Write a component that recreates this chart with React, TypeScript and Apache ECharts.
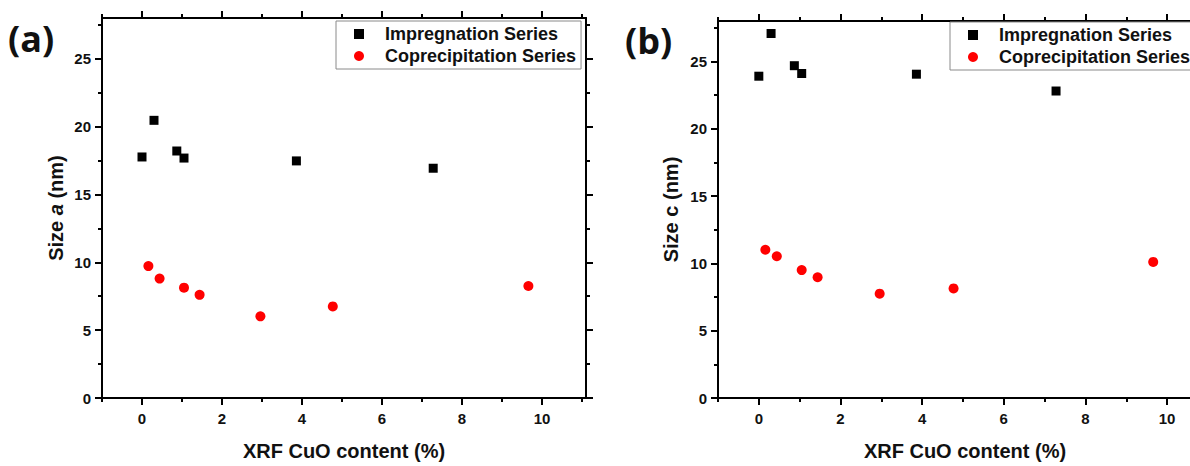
import React, { useEffect, useRef } from "react";
import * as echarts from "echarts";

const SERIES_NAMES = ["Impregnation Series", "Coprecipitation Series"];
const impX = [0, 0.3, 0.87, 1.05, 3.86, 7.28];
const impSizeA = [17.76, 20.46, 18.2, 17.68, 17.47, 16.93];
const impSizeC = [23.9, 27.07, 24.68, 24.1, 24.05, 22.8];
const copX = [0.16, 0.44, 1.05, 1.44, 2.96, 4.77, 9.66];
const copSizeA = [9.72, 8.8, 8.13, 7.6, 6.02, 6.75, 8.25];
const copSizeC = [11.01, 10.53, 9.5, 8.97, 7.75, 8.14, 10.11];

const xMajorTicks = [0, 2, 4, 6, 8, 10];
const xMinorTicks = [-1, 1, 3, 5, 7, 9, 11];
const yMajorTicks = [0, 5, 10, 15, 20, 25];
const yMinorTicks = [2.5, 7.5, 12.5, 17.5, 22.5, 27.5];
const X_MIN = -1;
const X_MAX = 11.1;
const Y_MIN = 0;
const Y_MAX = 28;

const X_TITLE = "XRF CuO content (%)";
const Y_TITLES = ["Size {i|a} (nm)", "Size c (nm)"];
const PANEL_LABELS = ["(a)", "(b)"];

const FONT = "'Liberation Sans', Arial, sans-serif";
const INK = "#111";

const zip = (xs: number[], ys: number[]) => xs.map((x, i) => [x, ys[i]]);

const titleStyle = {
  fontFamily: FONT,
  fontWeight: "bold",
  fontSize: 20,
  color: INK,
  rich: {
    i: { fontFamily: FONT, fontWeight: "bold", fontStyle: "italic", fontSize: 20, color: INK },
  },
};
const labelStyle = { fontFamily: FONT, fontWeight: "bold", fontSize: 15, color: INK };
const lineStyle = { color: "#000", width: 2 };
const tickLine = { color: "#000", width: 2 };

function makeXAxes(gi: number) {
  const base = { type: "value", gridIndex: gi, min: X_MIN, max: X_MAX, splitLine: { show: false } };
  const mk = (pos: string, major: boolean, withLabel: boolean) => ({
    ...base,
    position: pos,
    axisLine: { show: major, onZero: false, lineStyle },
    axisTick: {
      show: true,
      inside: false,
      length: major ? 7 : 4,
      customValues: major ? xMajorTicks : xMinorTicks,
      lineStyle: tickLine,
    },
    axisLabel: withLabel
      ? { show: true, customValues: xMajorTicks, margin: 13, ...labelStyle }
      : { show: false },
    ...(withLabel
      ? { name: X_TITLE, nameLocation: "middle", nameGap: 43, nameTextStyle: titleStyle }
      : {}),
  });
  return [mk("bottom", true, true), mk("bottom", false, false), mk("top", true, false), mk("top", false, false)];
}

function makeYAxes(gi: number, gap: number) {
  const base = { type: "value", gridIndex: gi, min: Y_MIN, max: Y_MAX, splitLine: { show: false } };
  const mk = (pos: string, major: boolean, withLabel: boolean) => ({
    ...base,
    position: pos,
    axisLine: { show: major, onZero: false, lineStyle },
    axisTick: {
      show: true,
      inside: false,
      length: major ? 7 : 4,
      customValues: major ? yMajorTicks : yMinorTicks,
      lineStyle: tickLine,
    },
    axisLabel: withLabel
      ? { show: true, customValues: yMajorTicks, margin: 11, ...labelStyle }
      : { show: false },
    ...(withLabel
      ? { name: Y_TITLES[gi], nameLocation: "middle", nameGap: gap, nameTextStyle: titleStyle }
      : {}),
  });
  return [mk("left", true, true), mk("left", false, false), mk("right", true, false), mk("right", false, false)];
}

function makeLegend(left: number, top: number) {
  return {
    left,
    top,
    orient: "vertical",
    data: SERIES_NAMES,
    backgroundColor: "#fff",
    borderColor: "#8a8a8a",
    borderWidth: 1,
    borderRadius: 0,
    padding: [3, 5, 3, 18],
    itemGap: 2,
    itemWidth: 10,
    itemHeight: 10,
    selectedMode: false,
    textStyle: {
      fontFamily: FONT,
      fontWeight: "bold",
      fontSize: 18,
      color: INK,
      lineHeight: 20,
      padding: [0, 0, 0, 16],
    },
  };
}

export default function App() {
  const ref = useRef<HTMLDivElement>(null);
  useEffect(() => {
    if (!ref.current) return;
    const chart = echarts.init(ref.current, undefined, { renderer: "svg" });
    const scatter = (name: string, gi: number, data: number[][]) => {
      const isImp = name === SERIES_NAMES[0];
      return {
        name,
        type: "scatter",
        xAxisIndex: gi * 4,
        yAxisIndex: gi * 4,
        data,
        symbol: isImp ? "rect" : "circle",
        symbolSize: isImp ? 9 : 10,
        itemStyle: { color: isImp ? "#000" : "#ff0000", opacity: 1 },
        emphasis: { disabled: true },
      };
    };
    chart.setOption({
      animation: false,
      backgroundColor: "#fff",
      grid: [
        { left: 102, top: 18, width: 484, height: 386, containLabel: false },
        { left: 718, top: 21, width: 494, height: 383, containLabel: false },
      ],
      xAxis: [...makeXAxes(0), ...makeXAxes(1)],
      yAxis: [...makeYAxes(0, 36), ...makeYAxes(1, 37)],
      legend: [makeLegend(336, 21), makeLegend(950, 22)],
      series: [
        scatter(SERIES_NAMES[0], 0, zip(impX, impSizeA)),
        scatter(SERIES_NAMES[1], 0, zip(copX, copSizeA)),
        scatter(SERIES_NAMES[0], 1, zip(impX, impSizeC)),
        scatter(SERIES_NAMES[1], 1, zip(copX, copSizeC)),
      ],
      graphic: [
        {
          type: "text",
          left: 8,
          top: 20,
          style: { text: PANEL_LABELS[0], font: "bold 36px 'Open Sans', sans-serif", fill: INK },
        },
        {
          type: "text",
          left: 625,
          top: 22,
          style: { text: PANEL_LABELS[1], font: "bold 36px 'Open Sans', sans-serif", fill: INK },
        },
      ],
    });
    return () => chart.dispose();
  }, []);
  return (
    <div
      style={{
        position: "fixed",
        left: 0,
        top: 0,
        width: 1190,
        height: 466,
        overflow: "hidden",
        background: "#fff",
      }}
    >
      <div ref={ref} style={{ width: 1240, height: 466 }} />
    </div>
  );
}
